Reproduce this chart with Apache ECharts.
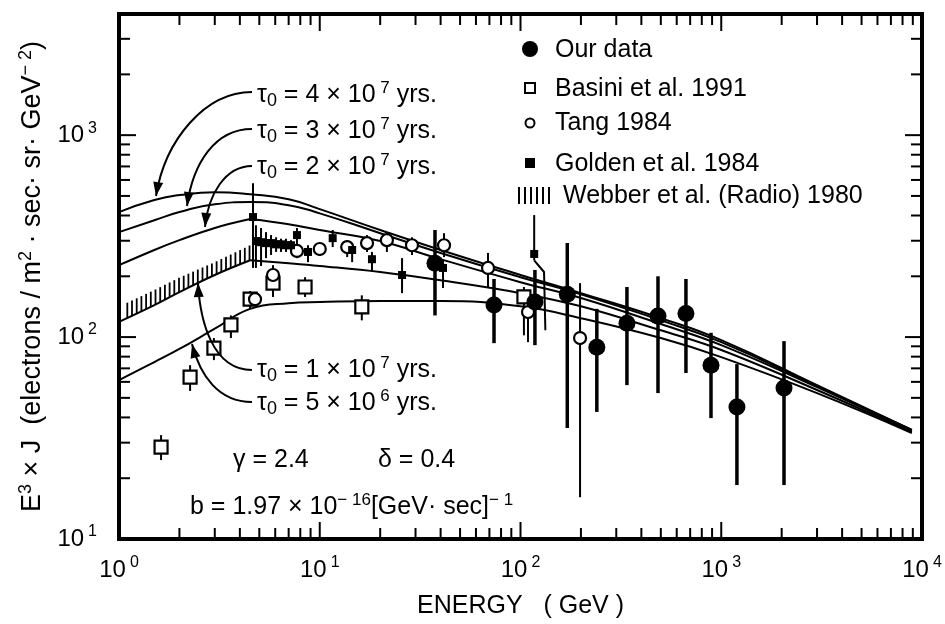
<!DOCTYPE html>
<html>
<head>
<meta charset="utf-8">
<title>Electron spectrum E^3 x J</title>
<script src="https://cdn.jsdelivr.net/npm/echarts@6/dist/echarts.min.js"></script>
<style>
html, body { margin: 0; padding: 0; background: #fff; }
#chart { width: 945px; height: 624px; }
</style>
</head>
<body>
<div id="chart"></div>
<script>
const FONT = '"Liberation Sans", Arial, Helvetica, sans-serif';

// model curves (diffusion model, different tau0)
const curveE = [1, 1.5, 2, 3, 4.5, 7, 10, 20, 40, 100, 200, 500, 1000, 3000, 8900];
const tau4e7 = [416, 477, 505, 522, 510, 482, 430, 339, 270, 203, 165, 124, 96.6, 57.8, 34.7];
const tau3e7 = [331, 379, 416, 455, 466, 450, 410, 327, 261, 198, 163, 121, 94.4, 57.2, 34.7];
const tau2e7 = [227, 270, 302, 347, 384, 362, 339, 299, 243, 187, 156, 116, 91.2, 56.5, 34.3];
const tau1e7 = [119, 144, 167, 203, 240, 232, 225, 210, 191, 165, 142, 108, 86.3, 54.7, 33.9];
const tau5e6 = [61.2, 75.2, 87.3, 110, 138, 147, 149, 151, 151, 142, 124, 98.9, 79.6, 52.8, 33.5];
const kinkIndex = 4; // curves for 2e7 and 1e7 break at 4.5 GeV

// Webber et al. (Radio) 1980 band
const webberE = [1.1, 1.5, 2, 3, 4.5];
const webberLo = [123, 144, 167, 203, 240];
const webberHi = [148, 171, 197, 235, 285];

// Our data
const ourE = [37.5, 73.8, 118, 171, 240, 339, 484, 667, 889, 1197, 2054];
const ourJ = [232, 144, 149, 163, 89.1, 117, 127, 131, 72.6, 45.0, 55.9];
const ourHi = [339, 194, 215, 292, 138, 177, 200, 194, 105, 73.5, 95.5];
const ourLo = [128, 93.3, 91.2, 35.5, 42.6, 57.8, 52.8, 66.4, 39.7, 18.5, 18.5];

// Basini et al. 1991
const basE = [1.62, 2.26, 2.97, 3.61, 4.50, 5.85, 8.45, 16.2, 104];
const basJ = [28.5, 63.4, 88.2, 115, 154, 185, 177, 141, 158];
const basHi = [32.7, 72.6, 98.9, 128, 169, 227, 198, 161, 177];
const basLo = [24.6, 54.1, 76.9, 98.9, 139, 158, 158, 121, 102];

// Tang 1984
const tangE = [4.76, 5.85, 7.70, 10.0, 13.7, 17.2, 21.6, 28.8, 41.6, 68.9, 109, 198];
const tangJ = [154, 203, 267, 273, 279, 292, 302, 285, 285, 220, 133, 98.9];
const tangHi = [163, 220, 285, 292, 302, 320, 327, 312, 327, 261, 165, 185];
const tangLo = [146, 185, 246, 252, 249, 264, 264, 255, 249, 177, 94.4, 16.1];

// Golden et al. 1984
const goldE = [4.65, 4.81, 5.10, 5.40, 5.72, 6.06, 6.41, 6.79, 7.19, 7.70, 8.74, 11.6, 14.5, 18.2, 25.7, 41.1, 117];
const goldJ = [393, 299, 295, 292, 292, 288, 288, 285, 285, 320, 264, 309, 270, 243, 203, 220, 258];
const goldHi = [578, 358, 347, 331, 320, 312, 307, 307, 302, 347, 285, 339, 292, 264, 246, 240, 402];
const goldLo = [220, 220, 225, 246, 255, 264, 264, 264, 270, 285, 235, 279, 235, 210, 165, 175, 240];
// bent leader under the 117 GeV Golden point
const leaderE = [117, 131, 133];
const leaderJ = [240, 210, 108];

// axis ranges and ticks
const xMin = 1, xMax = 10000;
const yMin = 10, yMax = Math.pow(10, 3.6);
const xTicks = [], yTicks = [];
for (let d = 1; d < xMax; d *= 10) for (let k = 1; k < 10; k++) xTicks.push(k * d);
xTicks.push(xMax);
for (let d = 10; d < yMax; d *= 10) for (let k = 1; k < 10; k++) if (k * d < yMax) yTicks.push(k * d);

function pairs(xs, ys) { return xs.map((x, i) => [x, ys[i]]); }
function bars(xs, ys, lo, hi) { return xs.map((x, i) => [x, ys[i], lo[i], hi[i]]); }
function isDecade(v) { const l = Math.log10(v); return Math.abs(l - Math.round(l)) < 1e-6; }

const chart = echarts.init(document.getElementById('chart'));

const labelRich = {
  b: { fontFamily: FONT, fontSize: 24, color: '#000', lineHeight: 30 },
  s: { fontFamily: FONT, fontSize: 16, color: '#000', lineHeight: 16, verticalAlign: 'top', padding: [0, 0, 0, 4] }
};
function powLabel(v) {
  if (!isDecade(v)) return '';
  return '{b|10}{s|' + Math.round(Math.log10(v)) + '}';
}

function errorBarSeries(name, data, width) {
  return {
    type: 'custom', name: name, silent: true, z: 3,
    encode: { x: 0, y: [1, 2, 3] },
    data: data,
    renderItem: function (params, api) {
      const a = api.coord([api.value(0), api.value(2)]);
      const b = api.coord([api.value(0), api.value(3)]);
      return { type: 'line', shape: { x1: a[0], y1: a[1], x2: b[0], y2: b[1] },
        style: { stroke: '#000', lineWidth: width } };
    }
  };
}

function curveSeries(es, vals, smooth) {
  return {
    type: 'line', data: pairs(es, vals), symbol: 'none', smooth: smooth,
    lineStyle: { color: '#000', width: 2 }, silent: true, z: 2
  };
}
function brokenCurve(vals) {
  return [
    curveSeries(curveE.slice(0, kinkIndex + 1), vals.slice(0, kinkIndex + 1), 0.4),
    curveSeries(curveE.slice(kinkIndex), vals.slice(kinkIndex), 0.4)
  ];
}

const series = [
  curveSeries(curveE, tau4e7, 0.5),
  curveSeries(curveE, tau3e7, 0.5),
  ...brokenCurve(tau2e7),
  ...brokenCurve(tau1e7),
  curveSeries(curveE, tau5e6, 0.45),
  {
    // hatched band
    type: 'custom', silent: true, z: 2,
    encode: { x: 0, y: [1, 2] },
    data: webberE.map((e, i) => [e, webberLo[i], webberHi[i]]),
    renderItem: function (params, api) {
      if (params.dataIndex !== 0) return;
      const lo = webberE.map((e, i) => api.coord([e, webberLo[i]]));
      const hi = webberE.map((e, i) => api.coord([e, webberHi[i]]));
      const children = [];
      const x0 = lo[0][0], x1 = lo[lo.length - 1][0];
      for (let x = x0; x <= x1 + 0.01; x += 4.7) {
        let j = 0;
        while (j < lo.length - 2 && lo[j + 1][0] < x) j++;
        const t = (x - lo[j][0]) / (lo[j + 1][0] - lo[j][0]);
        const yl = lo[j][1] + t * (lo[j + 1][1] - lo[j][1]);
        const yh = hi[j][1] + t * (hi[j + 1][1] - hi[j][1]);
        children.push({ type: 'line', shape: { x1: x, y1: yl, x2: x, y2: yh },
          style: { stroke: '#000', lineWidth: 1.8 } });
      }
      return { type: 'group', children: children };
    }
  },
  errorBarSeries('basErr', bars(basE, basJ, basLo, basHi), 2),
  errorBarSeries('tangErr', bars(tangE, tangJ, tangLo, tangHi), 2),
  errorBarSeries('goldErr', bars(goldE, goldJ, goldLo, goldHi), 2),
  errorBarSeries('ourErr', bars(ourE, ourJ, ourLo, ourHi), 3.5),
  {
    type: 'line', data: pairs(leaderE, leaderJ), symbol: 'none',
    lineStyle: { color: '#000', width: 2 }, silent: true, z: 3
  },
  {
    name: 'Basini et al. 1991', type: 'scatter', data: pairs(basE, basJ),
    symbol: 'rect', symbolSize: 13, z: 5,
    itemStyle: { color: '#fff', borderColor: '#000', borderWidth: 2.2, opacity: 1 }
  },
  {
    name: 'Tang 1984', type: 'scatter', data: pairs(tangE, tangJ),
    symbol: 'circle', symbolSize: 12, z: 5,
    itemStyle: { color: '#fff', borderColor: '#000', borderWidth: 2.2, opacity: 1 }
  },
  {
    name: 'Golden et al. 1984', type: 'scatter', data: pairs(goldE, goldJ),
    symbol: 'rect', symbolSize: 8, z: 6,
    itemStyle: { color: '#000', opacity: 1 }
  },
  {
    name: 'Our data', type: 'scatter', data: pairs(ourE, ourJ),
    symbol: 'circle', symbolSize: 17, z: 6,
    itemStyle: { color: '#000', opacity: 1 }
  },
  {
    // x ticks, bottom and top
    type: 'custom', silent: true, z: 10,
    data: xTicks.map(v => [v, yMin]),
    renderItem: function (params, api) {
      const cs = params.coordSys;
      const v = api.value(0);
      const x = api.coord([v, yMin])[0];
      const len = isDecade(v) ? 17 : 11;
      return { type: 'group', children: [
        { type: 'line', shape: { x1: x, y1: cs.y + cs.height, x2: x, y2: cs.y + cs.height - len }, style: { stroke: '#000', lineWidth: 2 } },
        { type: 'line', shape: { x1: x, y1: cs.y, x2: x, y2: cs.y + len }, style: { stroke: '#000', lineWidth: 2 } }
      ] };
    }
  },
  {
    // y ticks, left and right
    type: 'custom', silent: true, z: 10,
    data: yTicks.map(v => [xMin, v]),
    renderItem: function (params, api) {
      const cs = params.coordSys;
      const v = api.value(1);
      const y = api.coord([xMin, v])[1];
      const len = isDecade(v) ? 17 : 11;
      return { type: 'group', children: [
        { type: 'line', shape: { x1: cs.x, y1: y, x2: cs.x + len, y2: y }, style: { stroke: '#000', lineWidth: 2 } },
        { type: 'line', shape: { x1: cs.x + cs.width, y1: y, x2: cs.x + cs.width - len, y2: y }, style: { stroke: '#000', lineWidth: 2 } }
      ] };
    }
  }
];

// annotations
const annRich = {
  t: { fontFamily: FONT, fontSize: 25, lineHeight: 30, fill: '#000' },
  sub: { fontFamily: FONT, fontSize: 18, lineHeight: 22, verticalAlign: 'bottom', fill: '#000' },
  sup: { fontFamily: FONT, fontSize: 17, lineHeight: 16, verticalAlign: 'top', fill: '#000' }
};
const tauText = [
  ['4', '7'], ['3', '7'], ['2', '7'], ['1', '7'], ['5', '6']
];
const tauY = [95, 131, 167, 370, 403];
const arrows = [
  [252, 92, 205, 92, 165, 140, 156, 196],
  [252, 129, 215, 129, 193, 163, 187, 206],
  [252, 166, 225, 166, 208, 195, 205, 227],
  [252, 370, 212, 370, 200, 320, 198, 283],
  [252, 402, 218, 402, 200, 375, 192, 344]
];

function textEl(x, y, text) {
  return { type: 'text', x: x, y: y, silent: true, z: 20,
    style: { text: text, rich: annRich, align: 'left', verticalAlign: 'middle', fill: '#000',
      fontFamily: FONT, fontSize: 25 } };
}

const graphic = [];
tauText.forEach((t, i) => {
  graphic.push(textEl(257, tauY[i], '{t|τ}{sub|0}{t| = ' + t[0] + ' × 10}{sup| ' + t[1] + '}{t| yrs.}'));
});
arrows.forEach(a => {
  graphic.push({ type: 'bezierCurve', silent: true, z: 20,
    shape: { x1: a[0], y1: a[1], cpx1: a[2], cpy1: a[3], cpx2: a[4], cpy2: a[5], x2: a[6], y2: a[7] },
    style: { stroke: '#000', lineWidth: 2, fill: null } });
  const dx = a[6] - a[4], dy = a[7] - a[5];
  const L = Math.sqrt(dx * dx + dy * dy);
  const ux = dx / L, uy = dy / L;
  const bx = a[6] - ux * 14, by = a[7] - uy * 14;
  graphic.push({ type: 'polygon', silent: true, z: 21,
    shape: { points: [[a[6], a[7]], [bx - uy * 5, by + ux * 5], [bx + uy * 5, by - ux * 5]] },
    style: { fill: '#000' } });
});
graphic.push(textEl(233, 460, '{t|γ = 2.4}'));
graphic.push(textEl(378, 460, '{t|δ = 0.4}'));
graphic.push(textEl(190, 507, '{t|b = 1.97 × 10}{sup|− 16}{t|[GeV· sec]}{sup|− 1}'));

// legend
const legX = 530, legTextX = 555;
graphic.push({ type: 'circle', silent: true, z: 20, shape: { cx: legX, cy: 49, r: 8 }, style: { fill: '#000' } });
graphic.push({ type: 'rect', silent: true, z: 20, shape: { x: legX - 5, y: 83, width: 10, height: 10 }, style: { fill: '#fff', stroke: '#000', lineWidth: 2 } });
graphic.push({ type: 'circle', silent: true, z: 20, shape: { cx: legX, cy: 123, r: 4.5 }, style: { fill: '#fff', stroke: '#000', lineWidth: 2 } });
graphic.push({ type: 'rect', silent: true, z: 20, shape: { x: legX - 5, y: 158, width: 10, height: 10 }, style: { fill: '#000' } });
for (let k = 0; k < 6; k++) {
  const hx = 519 + k * 6;
  graphic.push({ type: 'line', silent: true, z: 20, shape: { x1: hx, y1: 187, x2: hx, y2: 204 }, style: { stroke: '#000', lineWidth: 2 } });
}
graphic.push(textEl(legTextX, 50, '{t|Our data}'));
graphic.push(textEl(legTextX, 89, '{t|Basini et al. 1991}'));
graphic.push(textEl(legTextX, 123, '{t|Tang 1984}'));
graphic.push(textEl(legTextX, 164, '{t|Golden et al. 1984}'));
graphic.push(textEl(563, 196, '{t|Webber et al. (Radio) 1980}'));

const option = {
  backgroundColor: '#fff',
  animation: false,
  grid: {
    left: 119, right: 23, top: 14, bottom: 84,
    show: true, borderColor: '#000', borderWidth: 4, backgroundColor: 'transparent'
  },
  xAxis: {
    type: 'log', logBase: 10, min: xMin, max: xMax,
    name: 'ENERGY   ( GeV )', nameLocation: 'middle', nameGap: 55,
    nameTextStyle: { fontFamily: FONT, fontSize: 25, color: '#000' },
    axisLine: { show: false }, axisTick: { show: false }, splitLine: { show: false },
    axisLabel: { formatter: powLabel, rich: labelRich, margin: 16 }
  },
  yAxis: {
    type: 'log', logBase: 10, min: yMin, max: yMax, splitNumber: 3,
    name: '{t|E}{s|3}{t| × J  (electrons / m}{s|2}{t| · sec· sr· GeV}{s|− 2}{t|)}',
    nameLocation: 'middle', nameGap: 70, nameRotate: 90,
    nameTextStyle: {
      rich: {
        t: { fontFamily: FONT, fontSize: 27, color: '#000', lineHeight: 32 },
        s: { fontFamily: FONT, fontSize: 18, color: '#000', lineHeight: 15, verticalAlign: 'top' }
      }
    },
    axisLine: { show: false }, axisTick: { show: false }, splitLine: { show: false },
    axisLabel: { formatter: powLabel, rich: labelRich, margin: 22 }
  },
  series: series,
  graphic: graphic
};

chart.setOption(option);
</script>
</body>
</html>
